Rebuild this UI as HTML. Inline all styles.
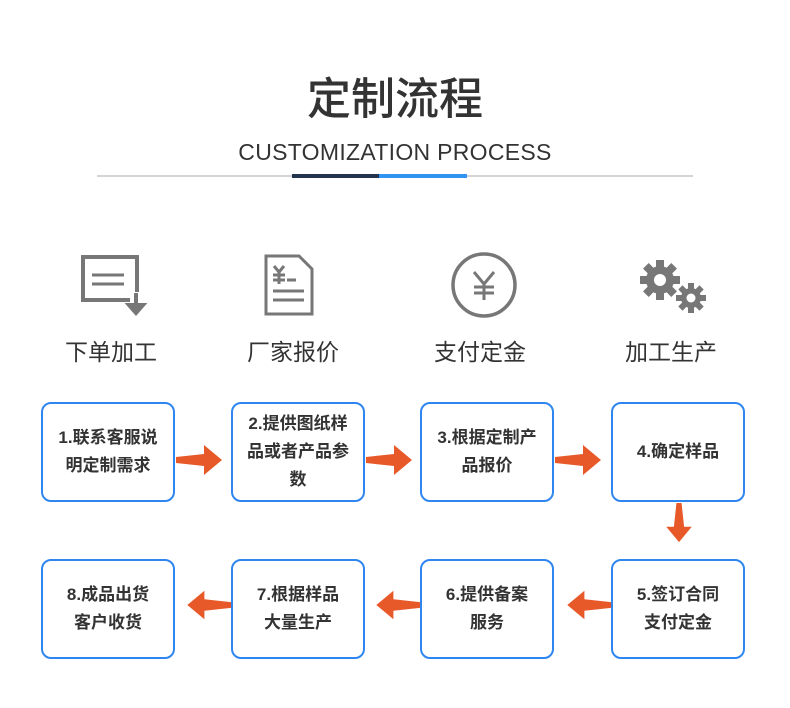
<!DOCTYPE html>
<html><head><meta charset="utf-8"><style>
body{margin:0;width:790px;height:708px;background:#fff;position:relative;overflow:hidden;font-family:"Liberation Sans","Noto Sans CJK SC",sans-serif;}
.a{position:absolute}
.t{left:0;width:790px;text-align:center;color:#333}
.box{position:absolute;width:134px;height:100px;border:2px solid #2f86f0;border-radius:10px;box-sizing:border-box;display:flex;align-items:center;justify-content:center;text-align:center;font-weight:bold;font-size:17px;line-height:28px;color:#333;padding:0 2px;}
.lbl{position:absolute;top:333px;width:150px;text-align:center;font-size:23px;color:#333}
</style></head><body>
<div class="a t" style="top:63px;font-size:44px;font-weight:500;">定制流程</div>
<div class="a t" style="top:139px;font-size:23px;letter-spacing:0.3px;">CUSTOMIZATION PROCESS</div>
<div class="a" style="left:97px;top:175px;width:596px;height:2px;background:#d4d4d4"></div>
<div class="a" style="left:292px;top:174px;width:87px;height:4px;background:#22344f"></div>
<div class="a" style="left:379px;top:174px;width:88px;height:4px;background:#3095f2"></div>

<svg class="a" style="left:0;top:0" width="790" height="400">
<g fill="none" stroke="#777" stroke-width="4">
<path d="M130 300 H83 V257 H137 V292"/>
<path d="M92 275 H124 M92 284 H124" stroke-width="3"/>
<path d="M266 256 H299 L312 269 V314 H266 Z" stroke-width="3"/>
<circle cx="484" cy="285" r="31" stroke-width="3.5"/>
</g>
<path d="M136 293 V306 M129 305 L136 313 L143 305 Z" stroke="#777" stroke-width="4" fill="#777"/>
<g stroke="#777" stroke-width="3" fill="none">
<path d="M274 266 L279 272 L284 266 M279 272 V284 M273 275 H285 M273 280 H285 M287 280 H296 M273 291 H304 M273 300 H304"/>
<path d="M474 272 L484 284 L494 272 M484 284 V300 M474 287 H494 M474 293 H494"/>
</g>
<g fill="#777">
<circle cx="660" cy="280" r="14"/>
<g transform="translate(660 280)"><rect x="-4" y="-20" width="8" height="40"/><rect x="-4" y="-20" width="8" height="40" transform="rotate(45)"/><rect x="-4" y="-20" width="8" height="40" transform="rotate(90)"/><rect x="-4" y="-20" width="8" height="40" transform="rotate(135)"/></g>
<circle cx="691" cy="298" r="10"/>
<g transform="translate(691 298)"><rect x="-3" y="-15" width="6" height="30"/><rect x="-3" y="-15" width="6" height="30" transform="rotate(45)"/><rect x="-3" y="-15" width="6" height="30" transform="rotate(90)"/><rect x="-3" y="-15" width="6" height="30" transform="rotate(135)"/></g>
</g>
<circle cx="660" cy="280" r="6" fill="#fff"/><circle cx="691" cy="298" r="4.5" fill="#fff"/>
</svg>

<div class="lbl" style="left:36px">下单加工</div>
<div class="lbl" style="left:218px">厂家报价</div>
<div class="lbl" style="left:405px">支付定金</div>
<div class="lbl" style="left:596px">加工生产</div>

<div class="box" style="left:41px;top:402px">1.联系客服说<br>明定制需求</div>
<div class="box" style="left:231px;top:402px">2.提供图纸样<br>品或者产品参<br>数</div>
<div class="box" style="left:420px;top:402px">3.根据定制产<br>品报价</div>
<div class="box" style="left:611px;top:402px">4.确定样品</div>
<div class="box" style="left:41px;top:559px">8.成品出货<br>客户收货</div>
<div class="box" style="left:231px;top:559px">7.根据样品<br>大量生产</div>
<div class="box" style="left:420px;top:559px">6.提供备案<br>服务</div>
<div class="box" style="left:611px;top:559px">5.签订合同<br>支付定金</div>

<svg class="a" style="left:0;top:0" width="790" height="708">
<defs><path id="ar" d="M0 -3 L28 -6 L28 -15 L46 0 L28 15 L28 6 L0 3 Z" fill="#e8592a"/></defs>
<use href="#ar" transform="translate(176 460)"/>
<use href="#ar" transform="translate(366 460)"/>
<use href="#ar" transform="translate(555 460)"/>
<use href="#ar" transform="translate(679 503) rotate(90) scale(0.85)"/>
<use href="#ar" transform="translate(611 605) rotate(180) scale(0.95)"/>
<use href="#ar" transform="translate(420 605) rotate(180) scale(0.95)"/>
<use href="#ar" transform="translate(231 605) rotate(180) scale(0.95)"/>
</svg>
</body></html>
